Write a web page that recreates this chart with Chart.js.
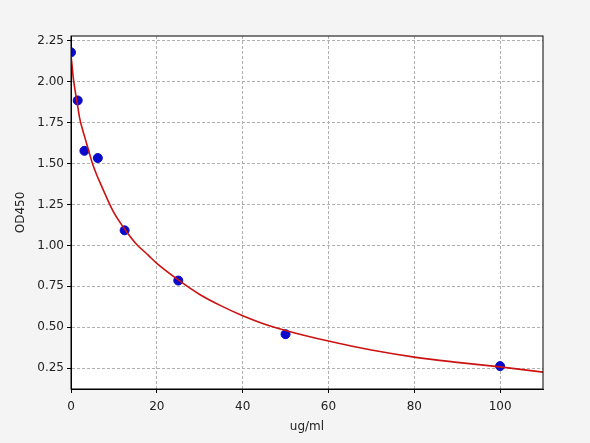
<!DOCTYPE html>
<html>
<head>
<meta charset="utf-8">
<script src="https://cdn.jsdelivr.net/npm/chart.js@4/dist/chart.umd.min.js"></script>
<style>
  html, body { margin: 0; padding: 0; background: #f4f4f4; }
  canvas { display: block; }
</style>
</head>
<body>
<canvas id="curve-chart" width="590" height="443"></canvas>
<script>
// standard points (concentration, OD)
const concentrations = [0, 1.5625, 3.125, 6.25, 12.5, 25, 50, 100];
const odValues = [2.18, 1.886, 1.578, 1.534, 1.092, 0.785, 0.457, 0.262];

// fitted curve
const curveX = [0, 0.25, 0.5, 1, 1.5, 2, 3, 4, 5, 6, 7, 8, 10, 12.5, 15, 18, 20, 25, 30, 35, 40, 45, 50, 60, 70, 80, 90, 100, 110];
const curveY = [2.16, 2.10, 2.03, 1.94, 1.86, 1.78, 1.68, 1.59, 1.50, 1.43, 1.37, 1.31, 1.20, 1.10, 1.015, 0.94, 0.89, 0.789, 0.70, 0.63, 0.57, 0.52, 0.48, 0.415, 0.36, 0.317, 0.285, 0.257, 0.225];

const xTicks = [0, 20, 40, 60, 80, 100];
const yTicks = [0.25, 0.5, 0.75, 1.0, 1.25, 1.5, 1.75, 2.0, 2.25];

const font = { family: 'DejaVu Sans', size: 12 };

// white plot area + box frame around it
const frame = {
    id: 'frame',
    beforeDraw(chart) {
        const a = chart.chartArea, ctx = chart.ctx;
        ctx.save();
        ctx.fillStyle = '#ffffff';
        ctx.fillRect(a.left, a.top, a.right - a.left, a.bottom - a.top);
        ctx.restore();
    },
    afterDraw(chart) {
        const a = chart.chartArea, ctx = chart.ctx;
        ctx.save();
        ctx.strokeStyle = '#000000';
        ctx.lineWidth = 1;
        ctx.strokeRect(a.left, a.top, a.right - a.left, a.bottom - a.top);
        ctx.restore();
    }
};

new Chart(document.getElementById('curve-chart').getContext('2d'), {
    type: 'scatter',
    data: {
        datasets: [{
            label: 'standards',
            data: concentrations.map((x, i) => ({ x: x, y: odValues[i] })),
            backgroundColor: '#0a0acc',
            borderColor: '#0a0acc',
            pointRadius: 4.5,
            order: 2
        }, {
            label: 'fit',
            type: 'line',
            data: curveX.map((x, i) => ({ x: x, y: curveY[i] })),
            borderColor: '#cc1111',
            borderWidth: 1.6,
            pointRadius: 0,
            cubicInterpolationMode: 'monotone',
            fill: false,
            order: 1
        }]
    },
    options: {
        responsive: false,
        animation: false,
        events: [],
        layout: { padding: { left: 0, right: 47, top: 36, bottom: 0 } },
        plugins: { legend: { display: false }, tooltip: { enabled: false } },
        scales: {
            x: {
                type: 'linear',
                min: 0,
                max: 110,
                afterBuildTicks: s => { s.ticks = xTicks.map(v => ({ value: v })); },
                afterFit: s => { s.height = 54; },
                ticks: { font: font, color: '#222', padding: 7, maxRotation: 0 },
                grid: { color: '#b0b0b0', tickColor: '#000', tickLength: 4, tickBorderDash: [] },
                border: { color: '#000', dash: [3, 2] },
                title: { display: true, text: 'ug/ml', font: font, color: '#222', padding: { top: 2, bottom: 9 } }
            },
            y: {
                min: 0.122,
                max: 2.28,
                afterBuildTicks: s => { s.ticks = yTicks.map(v => ({ value: v })); },
                afterFit: s => { s.width = 71; },
                ticks: { font: font, color: '#222', padding: 3, callback: v => v.toFixed(2) },
                grid: { color: '#b0b0b0', tickColor: '#000', tickLength: 4, tickBorderDash: [] },
                border: { color: '#000', dash: [3, 2] },
                title: { display: true, text: 'OD450', font: font, color: '#222', padding: { top: 14 } }
            }
        }
    },
    plugins: [frame]
});
</script>
</body>
</html>
